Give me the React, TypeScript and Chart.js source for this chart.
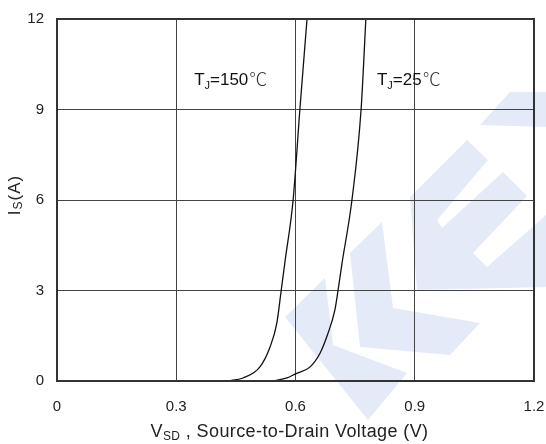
import React, { useEffect, useRef } from "react";
import { Chart, registerables } from "chart.js";

Chart.register(...registerables);

// Data
const vsd150 = [0.43, 0.468, 0.51, 0.536, 0.553, 0.564, 0.574, 0.594, 0.611, 0.629];
const is150 = [0, 0.1, 0.46, 1.13, 1.92, 3.0, 4.0, 6.0, 9.0, 12];
const vsd25 = [0.543, 0.579, 0.599, 0.636, 0.662, 0.682, 0.699, 0.707, 0.717, 0.742, 0.765, 0.777];
const is25 = [0, 0.1, 0.23, 0.46, 0.93, 1.59, 2.35, 3.0, 3.9, 6.0, 9.0, 12];

const xTicks = [0, 0.3, 0.6, 0.9, 1.2];
const yTicks = [0, 3, 6, 9, 12];
const curveLabels = ["150", "25"];
const labelAnchorX = [0.345, 0.805];
const labelAnchorY = [9.8, 9.8];

const FONT = "'Liberation Sans', Arial, Helvetica, sans-serif";
const WM = "rgb(228,234,247)";

const watermarkPlugin = {
  id: "watermark",
  beforeDraw(chart: any) {
    const ctx = chart.ctx;
    const polys: number[][][] = [
      [[285, 317], [325, 278], [333, 345], [407, 373], [368, 420]],
      [[350, 253], [382, 222], [393, 308], [480, 323], [450, 355], [360, 347]],
      [[410, 197], [467, 140], [488, 160], [437, 220], [442, 228], [503, 172], [527, 196], [473, 253], [487, 267], [546, 215], [546, 287], [417, 290]],
      [[480, 125], [510, 92], [546, 92], [546, 127]],
    ];
    ctx.save();
    ctx.fillStyle = WM;
    for (const p of polys) {
      ctx.beginPath();
      ctx.moveTo(p[0][0], p[0][1]);
      for (let i = 1; i < p.length; i++) ctx.lineTo(p[i][0], p[i][1]);
      ctx.closePath();
      ctx.fill();
    }
    ctx.restore();
  },
};

function drawTj(ctx: CanvasRenderingContext2D, x: number, y: number, temp: string) {
  ctx.fillStyle = "#111";
  ctx.textBaseline = "alphabetic";
  ctx.textAlign = "left";
  ctx.font = `17px ${FONT}`;
  ctx.fillText("T", x, y);
  let cx = x + ctx.measureText("T").width;
  ctx.font = `11px ${FONT}`;
  ctx.fillText("J", cx, y + 4);
  cx += ctx.measureText("J").width;
  ctx.font = `17px ${FONT}`;
  const t = "=" + temp;
  ctx.fillText(t, cx, y);
  cx += ctx.measureText(t).width;
  ctx.font = `300 18px 'Noto Sans CJK SC', 'DejaVu Sans', sans-serif`;
  ctx.fillStyle = "#333";
  ctx.fillText("℃", cx + 1, y + 1);
}

function drawParts(ctx: any, parts: [string, number, number][], cx: number, by: number, spacing: number) {
  ctx.letterSpacing = spacing + "px";
  let total = 0;
  for (const [s, size] of parts) {
    ctx.font = `${size}px ${FONT}`;
    total += ctx.measureText(s).width;
  }
  let x = cx - total / 2;
  for (const [s, size, dy] of parts) {
    ctx.font = `${size}px ${FONT}`;
    ctx.fillText(s, x, by + dy);
    x += ctx.measureText(s).width;
  }
  ctx.letterSpacing = "0px";
}

const overlayPlugin = {
  id: "overlay",
  afterDraw(chart: any) {
    const ctx = chart.ctx as CanvasRenderingContext2D;
    const { left, right, top, bottom } = chart.chartArea;
    const xs = chart.scales.x;
    const ys = chart.scales.y;
    ctx.save();
    // frame
    ctx.strokeStyle = "#333";
    ctx.lineWidth = 2;
    ctx.strokeRect(left, top, right - left, bottom - top);

    // curve labels
    for (let i = 0; i < curveLabels.length; i++) {
      drawTj(ctx, xs.getPixelForValue(labelAnchorX[i]), ys.getPixelForValue(labelAnchorY[i]), curveLabels[i]);
    }

    // x title
    ctx.fillStyle = "#222";
    ctx.textBaseline = "alphabetic";
    ctx.textAlign = "left";
    drawParts(
      ctx,
      [
        ["V", 18, 0],
        ["SD", 12, 3],
        [" , Source-to-Drain Voltage (V)", 18, 0],
      ],
      (left + right) / 2 - 6,
      437,
      0.4
    );

    // y title
    ctx.translate(20, (top + bottom) / 2 - 5);
    ctx.rotate(-Math.PI / 2);
    drawParts(
      ctx,
      [
        ["I", 17, 0],
        ["S", 12, 2],
        ["(A)", 17, 0],
      ],
      0,
      0,
      1
    );
    ctx.restore();
  },
};

export default function App() {
  const ref = useRef<HTMLCanvasElement | null>(null);
  useEffect(() => {
    document.body.style.margin = "0";
    const canvas = ref.current!;
    const chart = new Chart(canvas, {
      type: "scatter",
      data: {
        datasets: [
          {
            label: "TJ=150",
            data: vsd150.map((v, i) => ({ x: v, y: is150[i] })),
            showLine: true,
            borderColor: "#111",
            borderWidth: 1.3,
            pointRadius: 0,
            cubicInterpolationMode: "monotone",
          },
          {
            label: "TJ=25",
            data: vsd25.map((v, i) => ({ x: v, y: is25[i] })),
            showLine: true,
            borderColor: "#111",
            borderWidth: 1.3,
            pointRadius: 0,
            cubicInterpolationMode: "monotone",
          },
        ],
      },
      options: {
        animation: false,
        responsive: false,
        layout: { padding: { top: 19, right: 0, left: 0, bottom: 0 } },
        plugins: { legend: { display: false }, tooltip: { enabled: false } },
        scales: {
          x: {
            type: "linear",
            min: 0,
            max: 1.2,
            afterBuildTicks: (s: any) => {
              s.ticks = xTicks.map((v) => ({ value: v }));
            },
            afterFit: (s: any) => {
              s.height = 63;
              s.paddingRight = 12;
            },
            ticks: {
              callback: (v: any) => (Number(v) === 0 ? "0" : Number(v).toFixed(1)),
              color: "#222",
              font: { size: 15, family: FONT },
              padding: 17,
              maxRotation: 0,
            },
            grid: { color: "#444", lineWidth: 1, drawTicks: false },
            border: { display: false },
          },
          y: {
            type: "linear",
            min: 0,
            max: 12,
            afterBuildTicks: (s: any) => {
              s.ticks = yTicks.map((v) => ({ value: v }));
            },
            afterFit: (s: any) => {
              s.width = 57;
              s.paddingTop = 0;
            },
            ticks: {
              color: "#222",
              font: { size: 15, family: FONT },
              padding: 13,
            },
            grid: { color: "#444", lineWidth: 1, drawTicks: false },
            border: { display: false },
          },
        },
      },
      plugins: [watermarkPlugin, overlayPlugin],
    } as any);
    return () => chart.destroy();
  }, []);
  return <canvas ref={ref} width={546} height={444} style={{ display: "block" }} />;
}
